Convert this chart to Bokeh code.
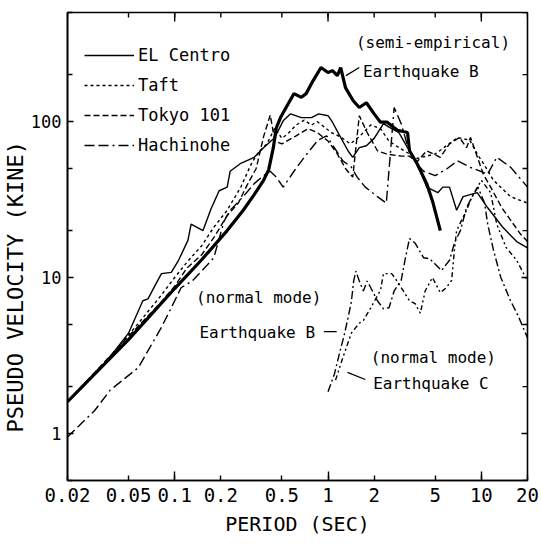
import math
from bokeh.plotting import figure
from bokeh.models import (FixedTicker, NumeralTickFormatter, Legend, LegendItem, Label, Title)
from bokeh.embed import file_html
from bokeh.resources import INLINE

FONT = "DejaVu Sans Mono"

# ---- data (period in sec, pseudo velocity in kine) ----
elc_t = [0.02,0.035,0.05,0.062,0.067,0.075,0.082,0.095,0.106,0.122,0.128,0.153,0.173,0.195,0.22,0.23,0.27,0.33,0.38,0.45,0.51,0.57,0.67,0.78,0.87,1.0,1.07,1.17,1.35,1.45,1.6,1.78,2.0,2.3,2.5,2.9,3.3,3.6,4.0,4.4,5.2,5.6,6.2,6.9,7.6,9.4,11,13.8,17,20]
elc_v = [1.6,2.8,4.4,7.1,7.3,9.0,10.6,10.8,12.9,17.3,22,20,27.7,36,38,48,54,59,68,79,101,112,106,106,112,109,99,84,65,59,68,70,78,97,92,85,68,59,48,38,35,38,38,27,33,35,28,21,17,15.5]

taft_t = [0.02,0.04,0.06,0.08,0.1,0.12,0.15,0.18,0.22,0.27,0.32,0.36,0.4,0.45,0.5,0.55,0.62,0.7,0.78,0.85,0.95,1.05,1.2,1.4,1.6,1.9,2.2,2.5,2.9,3.4,3.8,4.4,5.0,5.7,7.0,8.4,9.4,10.3,12,15.5,20]
taft_v = [1.6,3.3,5.3,7.5,10,12.5,16,21,27,38,55,65,72,91,78,84,95,102,95,100,92,85,80,72,80,95,90,75,68,62,58,60,62,68,79,76,62,54,42,33,30]

tokyo_t = [0.02,0.05,0.08,0.1,0.12,0.15,0.18,0.22,0.26,0.3,0.34,0.38,0.42,0.45,0.5,0.62,0.74,0.85,1.0,1.15,1.3,1.45,1.6,1.8,2.1,2.4,3.0,3.4,3.8,4.4,5.4,6.2,7.2,8.0,8.5,10.3,11.5,13.6,18,20]
tokyo_v = [1.6,4.2,6.8,8.8,11.5,14,18,25,30,40,50,80,110,75,72,81,90,85,75,62,50,44,109,85,65,62,60,60,55,65,59,72,79,68,79,46,38,28,19,17]

hachi_t = [0.02,0.03,0.038,0.058,0.082,0.095,0.11,0.13,0.15,0.18,0.21,0.23,0.28,0.33,0.38,0.42,0.46,0.51,0.6,0.7,0.86,0.98,1.1,1.25,1.42,1.55,1.75,2.1,2.4,2.7,3.0,3.3,3.7,4.2,5.0,6.0,7.0,8.4,11,12.6,15.5,20]
hachi_v = [0.95,1.4,1.9,2.65,4.8,6.4,8.6,9.5,11,13.4,23,27,33,40,45,48,44,38,48,59,76,81,68,56,51,44,38,33,30,123,97,70,55,48,45,50,56,51,46,59,51,38]

semi_t = [0.02,0.05,0.1,0.15,0.22,0.28,0.33,0.38,0.41,0.44,0.46,0.49,0.55,0.6,0.67,0.72,0.8,0.9,1.0,1.07,1.15,1.21,1.3,1.46,1.6,1.78,2.0,2.2,2.43,2.84,3.3,3.4,3.8,4.4,4.8,5.4]
semi_v = [1.6,4.0,8.5,13,20,27,34,42,49,68,91,106,130,151,143,151,183,222,206,212,197,222,165,136,123,132,112,99,99,88,85,65,54,40,31,20]

nmb_t = [1.0,1.1,1.2,1.27,1.35,1.42,1.47,1.52,1.6,1.7,1.8,1.9,2.1,2.3,2.5,2.7,3.0,3.2,3.4,3.7,4.2,4.6,5.5,6.2,6.7,7.3,8.0,8.7,9.5,10.5,11,12,13.4,15.5,17.5,20]
nmb_v = [1.85,2.4,3.4,4.2,5.5,7.0,9.5,11,9.5,8.2,9.5,8.6,7.1,6.3,6.4,8.2,9.6,13.4,17.8,16.6,13.4,13.2,11.1,12.9,16.8,20,28,33,38,30,22,15,10,7.1,5.6,4.1]

nmc_t = [1.12,1.24,1.42,1.6,1.7,1.9,2.2,2.3,2.6,2.8,3.1,3.4,3.7,4.0,4.3,4.8,5.4,5.9,6.4,6.7,6.9,8.0,8.7,10,11.5,12.6,14.5,17,20]
nmc_v = [2.2,3.0,4.4,5.1,5.3,6.4,8.3,10.6,10.6,9.6,8.2,7.1,6.8,5.9,8.2,10,8.0,8.6,9.6,15.6,20,27,33,42,35,22,15.6,12.9,9.5]

x_ticks = [0.02, 0.05, 0.1, 0.2, 0.5, 1, 2, 5, 10, 20]
x_decades = [0.1, 1, 10]
y_ticks = [1, 10, 100]
y_minor = [0.5, 2, 5, 20, 50, 200, 500]

X0, X1 = 0.02, 20
Y0, Y1 = 0.5, 500
W_PX, H_PX = 541, 546
ML, MR, MT, MB = 66, 14, 12, 66
FRAME_W = W_PX - ML - MR
FRAME_H = H_PX - MT - MB

p = figure(width=W_PX, height=H_PX, x_axis_type="log", y_axis_type="log",
           x_range=(X0, X1), y_range=(Y0, Y1),
           output_backend="svg", toolbar_location=None,
           min_border_left=ML, min_border_right=MR, min_border_top=MT, min_border_bottom=MB)
p.background_fill_color = "white"
p.border_fill_color = "white"
p.outline_line_color = "black"
p.outline_line_width = 1.6
p.xgrid.visible = False
p.ygrid.visible = False

xa = p.xaxis[0]
xa.ticker = FixedTicker(ticks=x_ticks, minor_ticks=x_decades)
xa.major_tick_in = 5
xa.major_tick_out = 0
xa.minor_tick_in = 9
xa.minor_tick_out = 0
xa.axis_line_width = 1.6
xa.major_tick_line_width = 1.4
xa.minor_tick_line_width = 1.4
xa.formatter = NumeralTickFormatter(format="0.[00]")
xa.major_label_text_font = FONT
xa.major_label_text_font_size = "19px"
xa.major_label_text_color = "black"
xa.major_label_standoff = 7
xa.axis_label = "PERIOD (SEC)"
xa.axis_label_text_font = FONT
xa.axis_label_text_font_size = "20px"
xa.axis_label_text_font_style = "normal"
xa.axis_label_text_color = "black"
xa.axis_label_standoff = 7

ya = p.yaxis[0]
ya.ticker = FixedTicker(ticks=y_ticks, minor_ticks=y_minor)
ya.major_tick_in = 6
ya.major_tick_out = 0
ya.minor_tick_in = 5
ya.minor_tick_out = 0
ya.axis_line_width = 1.6
ya.major_tick_line_width = 1.4
ya.minor_tick_line_width = 1.4
ya.formatter = NumeralTickFormatter(format="0")
ya.major_label_text_font = FONT
ya.major_label_text_font_size = "17px"
ya.major_label_text_color = "black"
ya.major_label_standoff = 6

# y axis title as a vertical title in the left panel
p.add_layout(Title(text="PSEUDO VELOCITY (KINE)", align="left", offset=48,
                   standoff=0, text_font=FONT, text_font_size="22px",
                   text_font_style="normal", text_color="black"), "left")

# inward ticks along the top and right edges of the frame
def px_factor(px, n_px, lo, hi):
    return 10 ** (px / n_px * math.log10(hi / lo))

top_x = x_ticks + x_decades
top_len = [5] * len(x_ticks) + [9] * len(x_decades)
p.segment(top_x, [Y1] * len(top_x), top_x,
          [Y1 / px_factor(L, FRAME_H, Y0, Y1) for L in top_len],
          line_color="black", line_width=1.4)
right_y = y_ticks + y_minor
right_len = [6] * len(y_ticks) + [5] * len(y_minor)
p.segment([X1] * len(right_y), right_y,
          [X1 / px_factor(L, FRAME_W, X0, X1) for L in right_len], right_y,
          line_color="black", line_width=1.4)

W = 1.4
r_elc = p.line(elc_t, elc_v, line_color="black", line_width=W)
r_taft = p.line(taft_t, taft_v, line_color="black", line_width=W, line_dash="3 3")
r_tokyo = p.line(tokyo_t, tokyo_v, line_color="black", line_width=W, line_dash="6 3")
r_hachi = p.line(hachi_t, hachi_v, line_color="black", line_width=W, line_dash="10 4 10 4 2 4")
p.line(semi_t, semi_v, line_color="black", line_width=3.2)
p.line(nmb_t, nmb_v, line_color="black", line_width=W, line_dash="8 3 2 3")
p.line(nmc_t, nmc_v, line_color="black", line_width=W, line_dash="5 3 2 3 2 3")

legend = Legend(items=[
    LegendItem(label="EL Centro", renderers=[r_elc]),
    LegendItem(label="Taft", renderers=[r_taft]),
    LegendItem(label="Tokyo 101", renderers=[r_tokyo]),
    LegendItem(label="Hachinohe", renderers=[r_hachi]),
], location=(17, 325))
legend.background_fill_alpha = 0
legend.border_line_color = None
legend.label_text_font = FONT
legend.label_text_font_size = "17px"
legend.label_text_color = "black"
legend.glyph_width = 50
legend.glyph_height = 20
legend.label_height = 20
legend.spacing = 10
legend.padding = 0
legend.margin = 0
legend.label_standoff = 4
p.add_layout(legend, "center")

def add_label(x, y, text):
    p.add_layout(Label(x=x, y=y, text=text, text_font=FONT, text_font_size="16px",
                       text_color="black", text_baseline="middle", text_align="left"))

add_label(1.52, 321, "(semi-empirical)")
add_label(1.69, 209, "Earthquake B")
add_label(0.138, 7.4, "(normal mode)")
add_label(0.145, 4.45, "Earthquake B")
add_label(1.9, 3.06, "(normal mode)")
add_label(1.97, 2.1, "Earthquake C")

# pointer lines from labels to curves
ptr_x0 = [1.31, 0.94, 1.34]
ptr_y0 = [197, 4.5, 2.47]
ptr_x1 = [1.6, 1.14, 1.75]
ptr_y1 = [222, 4.5, 2.22]
p.segment(ptr_x0, ptr_y0, ptr_x1, ptr_y1, line_color="black", line_width=1.3)

open("out.html", "w").write(file_html(p, INLINE))
